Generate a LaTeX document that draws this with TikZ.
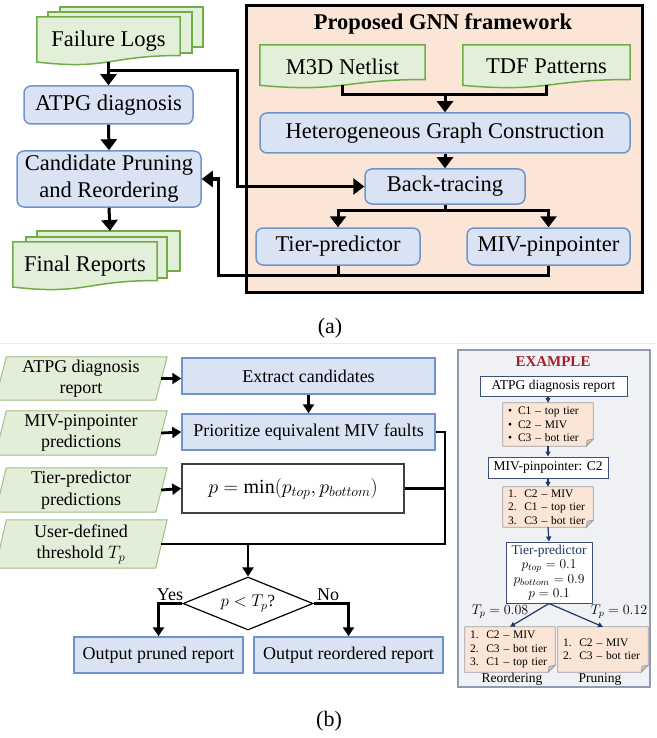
\documentclass[tikz,border=0pt]{standalone}
\usepackage{fix-cm}
\usepackage{fontspec}
\setmainfont{Liberation Serif}
\usetikzlibrary{arrows.meta,calc,shapes.geometric}
\definecolor{cBfill}{HTML}{DAE3F3}
\definecolor{cBline}{HTML}{6F94CC}
\definecolor{cGfill}{HTML}{E2F0D9}
\definecolor{cGline}{HTML}{70AD47}
\definecolor{cPfill}{HTML}{E3EED9}
\definecolor{cPline}{HTML}{9DC183}
\definecolor{cPeach}{HTML}{FBE5D6}
\definecolor{cFold}{HTML}{D9C2B2}
\definecolor{cNline}{HTML}{A0A0A0}
\definecolor{cNavy}{HTML}{1F3864}
\definecolor{cExred}{HTML}{A5202A}
\definecolor{cPanel}{HTML}{F0F1F4}
\definecolor{cPanelLine}{HTML}{8E9BB3}
\definecolor{cEbox}{HTML}{3B5078}
\pgfdeclarelayer{bg}
\pgfsetlayers{bg,main}
\newcommand\docshape[1]{%
  \path[draw=cGline, fill=cGfill, line width=1.5pt] (#1.north west) -- (#1.north east) -- ($(#1.north east)!0.8!(#1.south east)$) .. controls ($(#1.north)!0.8!(#1.south)$) and ($(#1.north)!1.107!(#1.south)$) .. ($(#1.north west)!0.934!(#1.south west)$) -- cycle;}
\newcommand\backpage[3]{%
  \path[draw=cGline, fill=cGfill, line width=1.5pt] ($(#1.north west)+#2$) rectangle ($(#1.north east)+#3$);}
\newcommand\parashape[1]{%
  \path[draw=cPline, fill=cPfill, line width=1pt] ($(#1.north west)+(5.5,0)$) -- ($(#1.north east)+(6,0)$) -- ($(#1.south east)+(-5.5,0)$) -- ($(#1.south west)+(-5.5,0)$) -- cycle;}
\newcommand\noteshape[1]{%
  \path[draw=cNline, fill=cPeach, line width=0.8pt] (#1.north west) -- (#1.north east) -- ($(#1.south east)+(0,-7)$) -- ($(#1.south east)+(-7,0)$) -- (#1.south west) -- cycle;
  \path[draw=cNline, fill=cFold, line width=0.8pt] ($(#1.south east)+(0,-7)$) -- ($(#1.south east)+(-6,-6)$) -- ($(#1.south east)+(-7,0)$) -- cycle;}
\tikzset{
  fa/.style={font=\fontsize{22.5}{27}\selectfont},
  fb/.style={font=\fontsize{18}{21.5}\selectfont},
  fe/.style={font=\fontsize{13.5}{14.5}\selectfont},
  txt/.style={inner sep=0pt, align=center},
  ablue/.style={fa, draw=cBline, fill=cBfill, line width=1.5pt, rounded corners=7pt, inner sep=0pt, align=center},
  bblue/.style={fb, draw=cBline, fill=cBfill, line width=1.5pt, inner sep=0pt, align=center},
  ebox/.style={fe, draw=cEbox, fill=white, line width=1pt, inner sep=0pt, align=center},
  notebox/.style={font=\fontsize{11.5}{13.5}\selectfont, text width=80pt, inner xsep=5pt, inner ysep=1pt, align=left},
  lnA/.style={line width=3pt},
  arA/.style={lnA, -{Triangle[length=11pt,width=16pt]}},
  lnB/.style={line width=2.8pt},
  arB/.style={lnB, -{Triangle[length=9pt,width=11pt]}},
  arE/.style={draw=cNavy, line width=1.2pt, -{Triangle[length=5pt,width=5pt]}}
}
\begin{document}
\begin{tikzpicture}[x=1pt,y=-1pt]
\useasboundingbox (0,0) rectangle (656,738);
\begin{pgfonlayer}{bg}
  \draw[line width=3pt, fill=cPeach] (246,6) rectangle (642,292);
  \draw[draw=cPanelLine, fill=cPanel, line width=1.2pt] (458,350) rectangle (650,687);
\end{pgfonlayer}
% ---------- (a) ----------
\node[txt, fa, minimum width=143pt, minimum height=48pt] (fl) at (108.5,41) {Failure Logs};
\node[ablue, minimum width=169pt, minimum height=38pt] (atpg) at (108.5,105) {ATPG diagnosis};
\node[ablue, minimum width=184pt, minimum height=56pt] (cand) at (109,179) {Candidate Pruning\\and Reordering};
\node[txt, fa, minimum width=144pt, minimum height=48pt] (fr) at (85,266) {Final Reports};
\node[txt, font=\fontsize{22.5}{27}\selectfont\bfseries] (title) at (443,24) {Proposed GNN framework};
\node[txt, fa, minimum width=165pt, minimum height=43pt] (m3d) at (342.5,66.5) {M3D Netlist};
\node[txt, fa, minimum width=167pt, minimum height=43pt] (tdf) at (546.5,66.5) {TDF Patterns};
\node[ablue, minimum width=370pt, minimum height=40pt] (hgc) at (445,133) {Heterogeneous Graph Construction};
\node[ablue, minimum width=160pt, minimum height=35pt] (bt) at (445,186.5) {Back-tracing};
\node[ablue, minimum width=164pt, minimum height=37pt] (tp) at (338,246.5) {Tier-predictor};
\node[ablue, minimum width=163pt, minimum height=37pt] (miv) at (548.5,246.5) {MIV-pinpointer};
\node[txt, font=\fontsize{22}{26}\selectfont] (capa) at (330,328) {(a)};
\coordinate (flB) at ($(fl.north)!0.93!(fl.south)$);
\coordinate (brA) at ($(fl.south)+(0,5)$);
\coordinate (xL) at (237,0);
\coordinate (xR) at (218,0);
\coordinate (yB) at (0,275);
\coordinate (yC) at (0,95);
\coordinate (yD) at (0,210);
\coordinate (frT) at (110,231);
\coordinate (m3dB) at ($(m3d.north)!0.93!(m3d.south)$);
\coordinate (tdfB) at ($(tdf.north)!0.93!(tdf.south)$);
\draw[arA] (flB) -- (atpg.north);
\draw[arA] (brA) -- (brA -| xL) |- (bt.west);
\draw[arA] (atpg.south) -- (cand.north);
\draw[arA] (cand.south) -- (frT);
\draw[lnA] (tp.south) -- (tp.south |- yB);
\draw[arA] (miv.south) -- (miv.south |- yB) -- (xR |- yB) -- (xR |- cand.east) -- (cand.east);
\draw[lnA] (m3dB) -- (m3dB |- yC) -- (tdfB |- yC) -- (tdfB);
\draw[arA] (hgc.north |- yC) -- (hgc.north);
\draw[arA] (hgc.south) -- (bt.north);
\draw[lnA] (bt.south) -- (bt.south |- yD);
\draw[arA] (bt.south |- yD) -- (tp.north |- yD) -- (tp.north);
\draw[arA] (bt.south |- yD) -- (miv.north |- yD) -- (miv.north);
\coordinate (sepL) at (0,343);
\coordinate (sepR) at (656,343);
\draw[black!8, line width=1pt] (sepL) -- (sepR);
% ---------- (b) ----------
\node[txt, fb, minimum width=160pt, minimum height=43pt] (p1) at (81,378.5) {ATPG diagnosis\\report};
\node[txt, fb, minimum width=160pt, minimum height=44pt] (p2) at (81,433) {MIV-pinpointer\\predictions};
\node[txt, fb, minimum width=160pt, minimum height=44pt] (p3) at (81,490) {Tier-predictor\\predictions};
\node[txt, fb, minimum width=160pt, minimum height=48pt] (p4) at (81,544) {User-defined\\threshold $T_p$};
\node[bblue, minimum width=253pt, minimum height=36pt] (ext) at (308.5,376) {Extract candidates};
\node[bblue, minimum width=253pt, minimum height=36pt] (pr) at (308.5,432) {Prioritize equivalent MIV faults};
\node[font=\fontsize{20}{24}\selectfont, draw=black!75, fill=white, line width=1.5pt, inner sep=0pt, minimum width=222pt, minimum height=49pt] (fm) at (293,488.5) {$p = \min\bigl(p_{top}, p_{bottom}\bigr)$};
\node[draw, fill=white, line width=1.2pt, diamond, shape aspect=2.5, minimum width=130pt, minimum height=53pt, inner sep=0pt, font=\fontsize{17}{20}\selectfont] (dm) at (248,603.5) {$p < T_p$?};
\node[bblue, minimum width=169pt, minimum height=36pt] (op) at (158.5,655) {Output pruned report};
\node[bblue, minimum width=189pt, minimum height=36pt] (or) at (348.5,655) {Output reordered report};
\node[txt, fb] (yes) at (170,595) {Yes};
\node[txt, fb] (no) at (328,595) {No};
\node[txt, font=\fontsize{22}{26}\selectfont] (capb) at (329,721) {(b)};
\coordinate (xV) at (445,0);
\draw[arB] (p1.east) -- (p1.east -| ext.west);
\draw[arB] (p2.east) -- (pr.west);
\draw[arB] (p3.east) -- (fm.west);
\draw[arB] (ext.south) -- (pr.north);
\draw[lnB] (pr.east) -- (pr.east -| xV) -- (xV |- p4.east) -- (p4.east);
\draw[lnB] (fm.east) -- (fm.east -| xV);
\draw[arB] (dm.north |- p4.east) -- (dm.north);
\draw[arB] (dm.west) -- (dm.west -| op.north) -- (op.north);
\draw[arB] (dm.east) -- (dm.east -| or.north) -- (or.north);
% ---------- example ----------
\node[txt, font=\fontsize{15}{18}\selectfont\bfseries, text=cExred] (exT) at (553,362) {EXAMPLE};
\node[ebox, minimum width=147pt, minimum height=20pt] (ea) at (553.5,386) {ATPG diagnosis report};
\node[notebox, minimum height=43pt] (n1) at (548,424.5) {\textbullet\hspace{6pt}C1 -- top tier\\\textbullet\hspace{6pt}C2 -- MIV\\\textbullet\hspace{6pt}C3 -- bot tier};
\node[ebox, minimum width=120pt, minimum height=21pt] (mp) at (548,467.5) {MIV-pinpointer: C2};
\node[notebox, minimum height=40pt] (n2) at (548,507) {1.\ \ C2 -- MIV\\2.\ \ C1 -- top tier\\3.\ \ C3 -- bot tier};
\node[ebox, minimum width=86pt, minimum height=61pt] (tb) at (549,572.5) {{\color{cNavy}Tier-predictor}\\$p_{top} = 0.1$\\$p_{bottom} = 0.9$\\$p = 0.1$};
\node[notebox, minimum height=45pt] (rn) at (510,649.5) {1.\ \ C2 -- MIV\\2.\ \ C3 -- bot tier\\3.\ \ C1 -- top tier};
\node[notebox, minimum height=45pt] (pn) at (603,649.5) {1.\ \ C2 -- MIV\\2.\ \ C3 -- bot tier};
\node[txt, font=\fontsize{14}{16}\selectfont] (tl) at (500,612) {$T_p = 0.08$};
\node[txt, font=\fontsize{14}{16}\selectfont] (tr) at (619,612) {$T_p = 0.12$};
\node[txt, fe] (reo) at (512,679) {Reordering};
\node[txt, fe] (pru) at (600,679) {Pruning};
\draw[arE] (n1.north |- ea.south) -- (n1.north);
\draw[arE] (n1.south) -- (mp.north);
\draw[arE] (mp.south) -- (n2.north);
\draw[arE] (n2.south) -- (tb.north);
\draw[arE] (tb.south) -- (rn.north);
\draw[arE] (tb.south) -- (pn.north);
% ---------- background shapes ----------
\begin{pgfonlayer}{bg}
  \backpage{fl}{(23,-10)}{(23,30)}
  \backpage{fl}{(11,-5)}{(12,36)}
  \docshape{fl}
  \backpage{fr}{(24,-11)}{(23,29)}
  \backpage{fr}{(13,-5)}{(10,36)}
  \docshape{fr}
  \docshape{m3d}
  \docshape{tdf}
  \parashape{p1}
  \parashape{p2}
  \parashape{p3}
  \parashape{p4}
  \noteshape{n1}
  \noteshape{n2}
  \noteshape{rn}
  \noteshape{pn}
\end{pgfonlayer}
\end{tikzpicture}
\end{document}
